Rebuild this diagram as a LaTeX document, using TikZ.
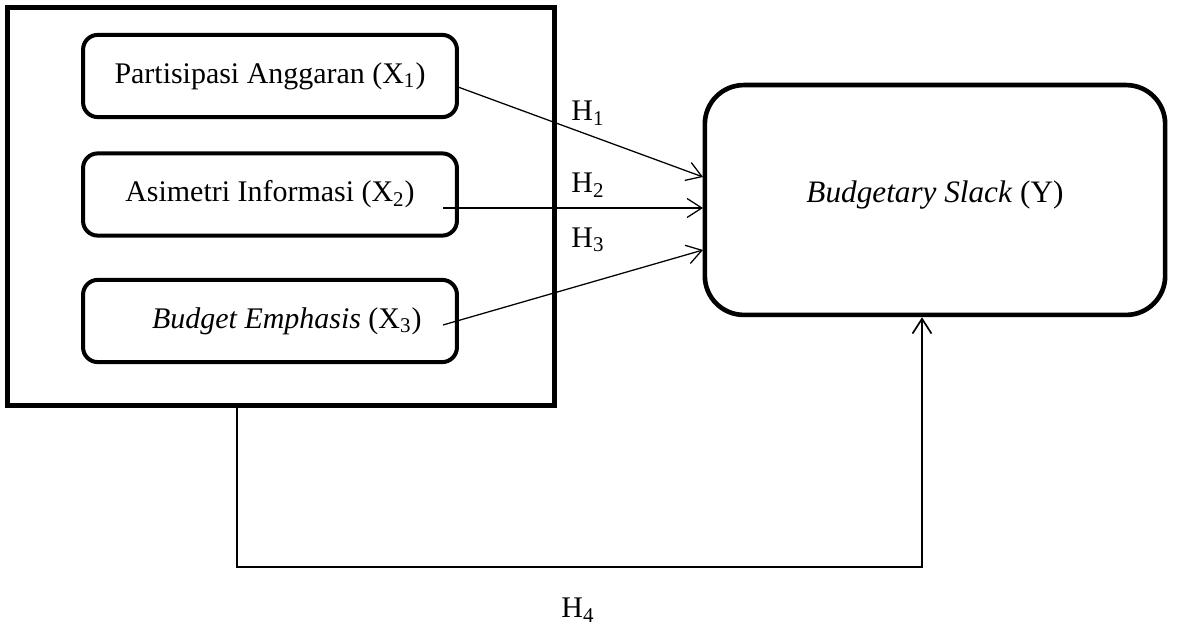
\documentclass[tikz,border=0pt]{standalone}
\usepackage{fontspec}
\setmainfont{Liberation Serif}
\usetikzlibrary{positioning,arrows.meta}
\tikzset{
  kotak/.style={draw=black,line width=1.9pt,rounded corners=7pt,minimum width=6.23cm,minimum height=1.37cm,inner sep=0pt},
  kotakluar/.style={draw=black,line width=2.4pt,minimum width=9.10cm,minimum height=6.62cm,inner sep=0pt},
  kotaky/.style={draw=black,line width=2.2pt,rounded corners=0.65cm,minimum width=7.67cm,minimum height=3.83cm,inner sep=0pt},
  panah/.style={-{Straight Barb[length=7pt,width=9pt]},line width=0.6pt},
  teks/.style={font=\fontsize{14.2}{17}\selectfont,inner sep=0pt},
}

\begin{document}
\begin{tikzpicture}[x=0.01667cm,y=-0.01667cm,teks]
  \useasboundingbox (0,0) rectangle (1178,631);
  % kotak variabel independen
  \node[kotakluar] (grup) at (281,206.5) {};
  \node[kotak] (x1) at (270,76) {Partisipasi Anggaran (X\textsubscript{1})};
  \node[kotak] (x2) at (270,194.5) {Asimetri Informasi (X\textsubscript{2})};
  \node[kotak] (x3) at (270,321) {\hspace{16pt}\textit{Budget Emphasis} (X\textsubscript{3})};
  \node[kotaky] (y) at (935,200) {\raisebox{8pt}{\fontsize{14.8}{17}\selectfont\textit{Budgetary Slack} (Y)}};
  % ujung panah
  \coordinate (a1) at (458,87);
  \coordinate (a2) at (443,208);
  \coordinate (a3) at (443,325);
  \coordinate (b1) at (703,177);
  \coordinate (b2) at (703,208);
  \coordinate (b3) at (703,250);
  \foreach \a/\b in {a1/b1,a2/b2,a3/b3}
    \draw[panah] (\a) -- (\b);
  \foreach \p/\t in {113/1,185/2,240/3}
    \node[teks] (h\t) at (588,\p) {H\textsubscript{\t}};
  % jalur H4
  \coordinate (k1) at (237,567);
  \coordinate (k2) at (922,567);
  \draw[panah,line width=0.8pt] (grup.south -| k1) -- (k1) -- (k2) -- (y.south -| k2);
  \node[teks] (h4) at (578,610) {H\textsubscript{4}};
\end{tikzpicture}
\end{document}
